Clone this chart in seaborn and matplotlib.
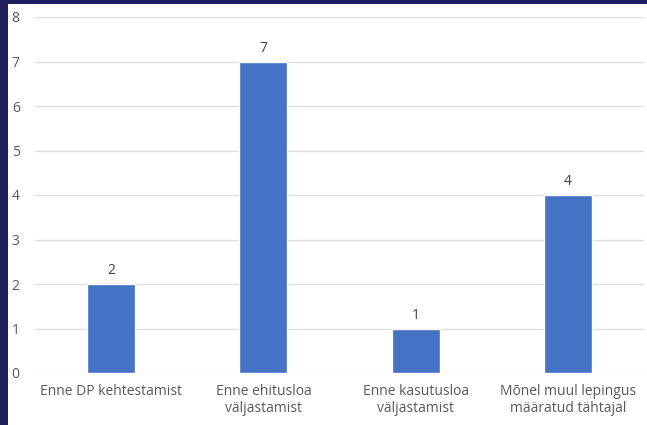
import matplotlib
matplotlib.use("Agg")
import matplotlib.pyplot as plt
import seaborn as sns
import pandas as pd
from matplotlib.patches import Rectangle

categories = ["Enne DP kehtestamist", "Enne ehitusloa\nväljastamist",
              "Enne kasutusloa\nväljastamist", "Mõnel muul lepingus\nmääratud tähtajal"]
values = [2, 7, 1, 4]
yticks = [0, 1, 2, 3, 4, 5, 6, 7, 8]

df = pd.DataFrame({"cat": categories, "val": values})

sns.set_theme(style="white")
plt.rcParams["font.family"] = ["Open Sans", "DejaVu Sans"]

W, H = 647, 425
fig = plt.figure(figsize=(W / 100, H / 100), dpi=100)
fig.patch.set_facecolor("#201d5e")
fig.patches.append(Rectangle((8 / W, 0), 1 - 8 / W, (H - 4) / H, transform=fig.transFigure,
                             facecolor="white", edgecolor="none", zorder=-10))

ax = fig.add_axes([35 / W, 52 / H, (644 - 35) / W, (373 - 17) / H])
ax.set_zorder(1)
ax.set_facecolor("none")
sns.barplot(data=df, x="cat", y="val", color="#4472C4", width=0.315, ax=ax, zorder=3,
            saturation=1)
ax.set_ylim(0, 8)
ax.set_yticks(yticks)
ax.set_xlim(-0.5, 3.5)
ax.grid(axis="y", color="#dedede", linewidth=1, zorder=0)
ax.set_axisbelow(True)
for s in ax.spines.values():
    s.set_visible(False)
ax.set_xlabel("")
ax.set_ylabel("")
ax.tick_params(axis="y", colors="#595959", labelsize=10, length=0, pad=11)
ax.tick_params(axis="x", colors="#595959", labelsize=10, length=0, pad=8)
for c in ax.containers:
    ax.bar_label(c, padding=4, color="#404040", fontsize=10)

fig.savefig("out.png", dpi=100, facecolor=fig.get_facecolor())
